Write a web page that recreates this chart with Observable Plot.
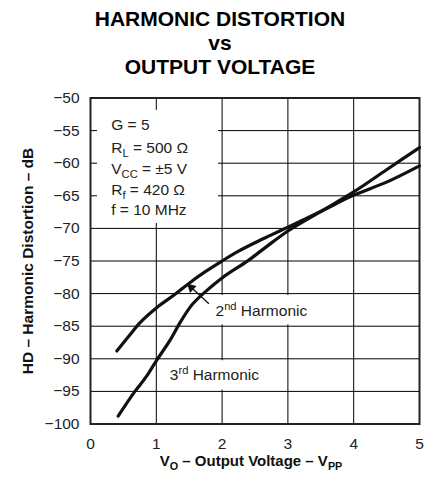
<!DOCTYPE html>
<html><head><meta charset="utf-8">
<script src="https://cdn.jsdelivr.net/npm/d3@7"></script>
<script src="https://cdn.jsdelivr.net/npm/@observablehq/plot@0.6"></script>
<style>
html,body{margin:0;padding:0;background:#fff;}
#title{width:430px;height:80px;box-sizing:border-box;padding:7px 0 0 10px;text-align:center;font:bold 21px/24px "Liberation Sans",Arial,Helvetica,sans-serif;color:#000;overflow:hidden;}
#chart svg{display:block;}
</style></head><body>
<div id="title"></div>
<div id="chart"></div>
<script>
// ---- data ----
const titleLines = ["HARMONIC DISTORTION", "vs", "OUTPUT VOLTAGE"];
const xTicks = [0, 1, 2, 3, 4, 5];
const yTicks = [-50, -55, -60, -65, -70, -75, -80, -85, -90, -95, -100];
const xLabel = "V_{O} – Output Voltage – V_{PP}";
const yLabel = "HD – Harmonic Distortion – dB";

const secondV  = [0.4, 0.6, 0.75, 1.0, 1.3, 1.5, 1.75, 2.0, 2.25, 2.5, 2.75, 3.0, 3.5, 4.0, 4.5, 5.0];
const secondHD = [-88.8, -86.3, -84.5, -82.2, -80.0, -78.4, -76.6, -75.0, -73.5, -72.2, -71.0, -69.8, -67.4, -64.9, -62.9, -60.4];
const thirdV   = [0.42, 0.675, 0.85, 1.0, 1.2, 1.37, 1.52, 1.77, 2.0, 2.4, 2.7, 3.0, 3.5, 4.0, 4.5, 5.0];
const thirdHD  = [-98.8, -95.0, -92.7, -90.3, -87.3, -84.3, -82.0, -79.5, -77.6, -74.9, -72.6, -70.4, -67.4, -64.4, -61.0, -57.6];

const conditionText = ["G = 5", "R_{L} = 500 Ω", "V_{CC} = ±5 V", "R_{f} = 420 Ω", "f = 10 MHz"];
const conditionY    = [-54.2, -57.6, -60.9, -64.1, -67.2];
const conditionX    = 0.315;

const seriesLabels = ["2^{nd} Harmonic", "3^{rd} Harmonic"];
const seriesLabelX = [1.90, 1.205];
const seriesLabelY = [-82.7, -92.55];

// white backing boxes behind annotations (in data units)
const boxX1 = [0.106, 1.87, 1.155];
const boxX2 = [1.945, 3.43, 2.67];
const boxY1 = [-51.9, -80.3, -90.3];
const boxY2 = [-69.25, -84.8, -94.8];

const arrowTail = [1.80, -81.56];
const arrowTip  = [1.47, -78.5];

// ---- build tables ----
document.getElementById("title").innerHTML = titleLines.join("<br>");
const second = secondV.map((v, i) => ({v, hd: secondHD[i]}));
const third  = thirdV.map((v, i) => ({v, hd: thirdHD[i]}));
const conditions = conditionText.map((t, i) => ({t, x: conditionX, y: conditionY[i]}));
const labels = seriesLabels.map((t, i) => ({t, x: seriesLabelX[i], y: seriesLabelY[i]}));
const boxes = boxX1.map((x1, i) => ({x1, x2: boxX2[i], y1: boxY1[i], y2: boxY2[i]}));
const arrow = [{x1: arrowTail[0], y1: arrowTail[1], x2: arrowTip[0], y2: arrowTip[1]}];

const FONT = '"Liberation Sans", Arial, Helvetica, sans-serif';
const INK = "#111";

const chart = Plot.plot({
  width: 430, height: 398,
  marginTop: 17.5, marginBottom: 54.5, marginLeft: 90, marginRight: 11,
  style: {fontFamily: FONT, fontSize: "15.5px", color: "#222", background: "#fff"},
  x: {domain: [0, 5]},
  y: {domain: [-100, -50]},
  marks: [
    Plot.gridX(xTicks, {stroke: "#000", strokeOpacity: 1, strokeWidth: 1}),
    Plot.gridY(yTicks, {stroke: "#000", strokeOpacity: 1, strokeWidth: 1}),
    Plot.rect(boxes, {x1: "x1", x2: "x2", y1: "y1", y2: "y2", fill: "#fff"}),
    Plot.frame({stroke: "#222", strokeWidth: 2}),
    Plot.axisX(xTicks, {tickSize: 0, tickPadding: 13.5, label: null, fill: "#222"}),
    Plot.axisY(yTicks, {tickSize: 0, tickPadding: 11, label: null, fill: "#222"}),
    Plot.line(second, {x: "v", y: "hd", stroke: INK, strokeWidth: 3.2, curve: "monotone-x"}),
    Plot.line(third, {x: "v", y: "hd", stroke: INK, strokeWidth: 3.2, curve: "monotone-x"}),
    Plot.link(arrow, {x1: "x1", y1: "y1", x2: "x2", y2: "y2", stroke: INK, strokeWidth: 1.3}),
    Plot.dot(arrow, {x: "x2", y: "y2", symbol: "triangle", r: 3.6, fill: INK, stroke: null, rotate: -47, dx: 4, dy: 3.7}),
    Plot.text(conditions, {x: "x", y: "y", text: "t", textAnchor: "start", fill: "#222"}),
    Plot.text(labels, {x: "x", y: "y", text: "t", textAnchor: "start", fill: "#222"}),
    Plot.text([xLabel], {text: d => d, frameAnchor: "bottom", textAnchor: "middle", lineAnchor: "middle", dy: 37, dx: -4, fontSize: 15, fontWeight: "bold", fill: "#111"}),
    Plot.text([yLabel], {text: d => d, frameAnchor: "left", textAnchor: "middle", lineAnchor: "middle", rotate: -90, dx: -62.5, fontWeight: "bold", fill: "#111"})
  ]
});

// sub/superscript markup -> tspans
function richText(svg) {
  svg.querySelectorAll("text").forEach(t => {
    const s = t.textContent;
    if (!/[_^]\{/.test(s)) return;
    const parts = s.split(/([_^]\{[^}]*\})/).filter(p => p);
    t.textContent = "";
    let shift = 0;
    for (const p of parts) {
      const m = p.match(/^([_^])\{([^}]*)\}$/);
      const ts = document.createElementNS("http://www.w3.org/2000/svg", "tspan");
      if (m) {
        const d = m[1] === "_" ? 4 : -6;
        ts.setAttribute("dy", d - shift);
        shift = d;
        ts.style.fontSize = "72%";
        ts.textContent = m[2];
      } else {
        if (shift) { ts.setAttribute("dy", -shift); shift = 0; }
        ts.textContent = p;
      }
      t.appendChild(ts);
    }
  });
}
richText(chart);
document.getElementById("chart").appendChild(chart);
</script>
</body></html>
